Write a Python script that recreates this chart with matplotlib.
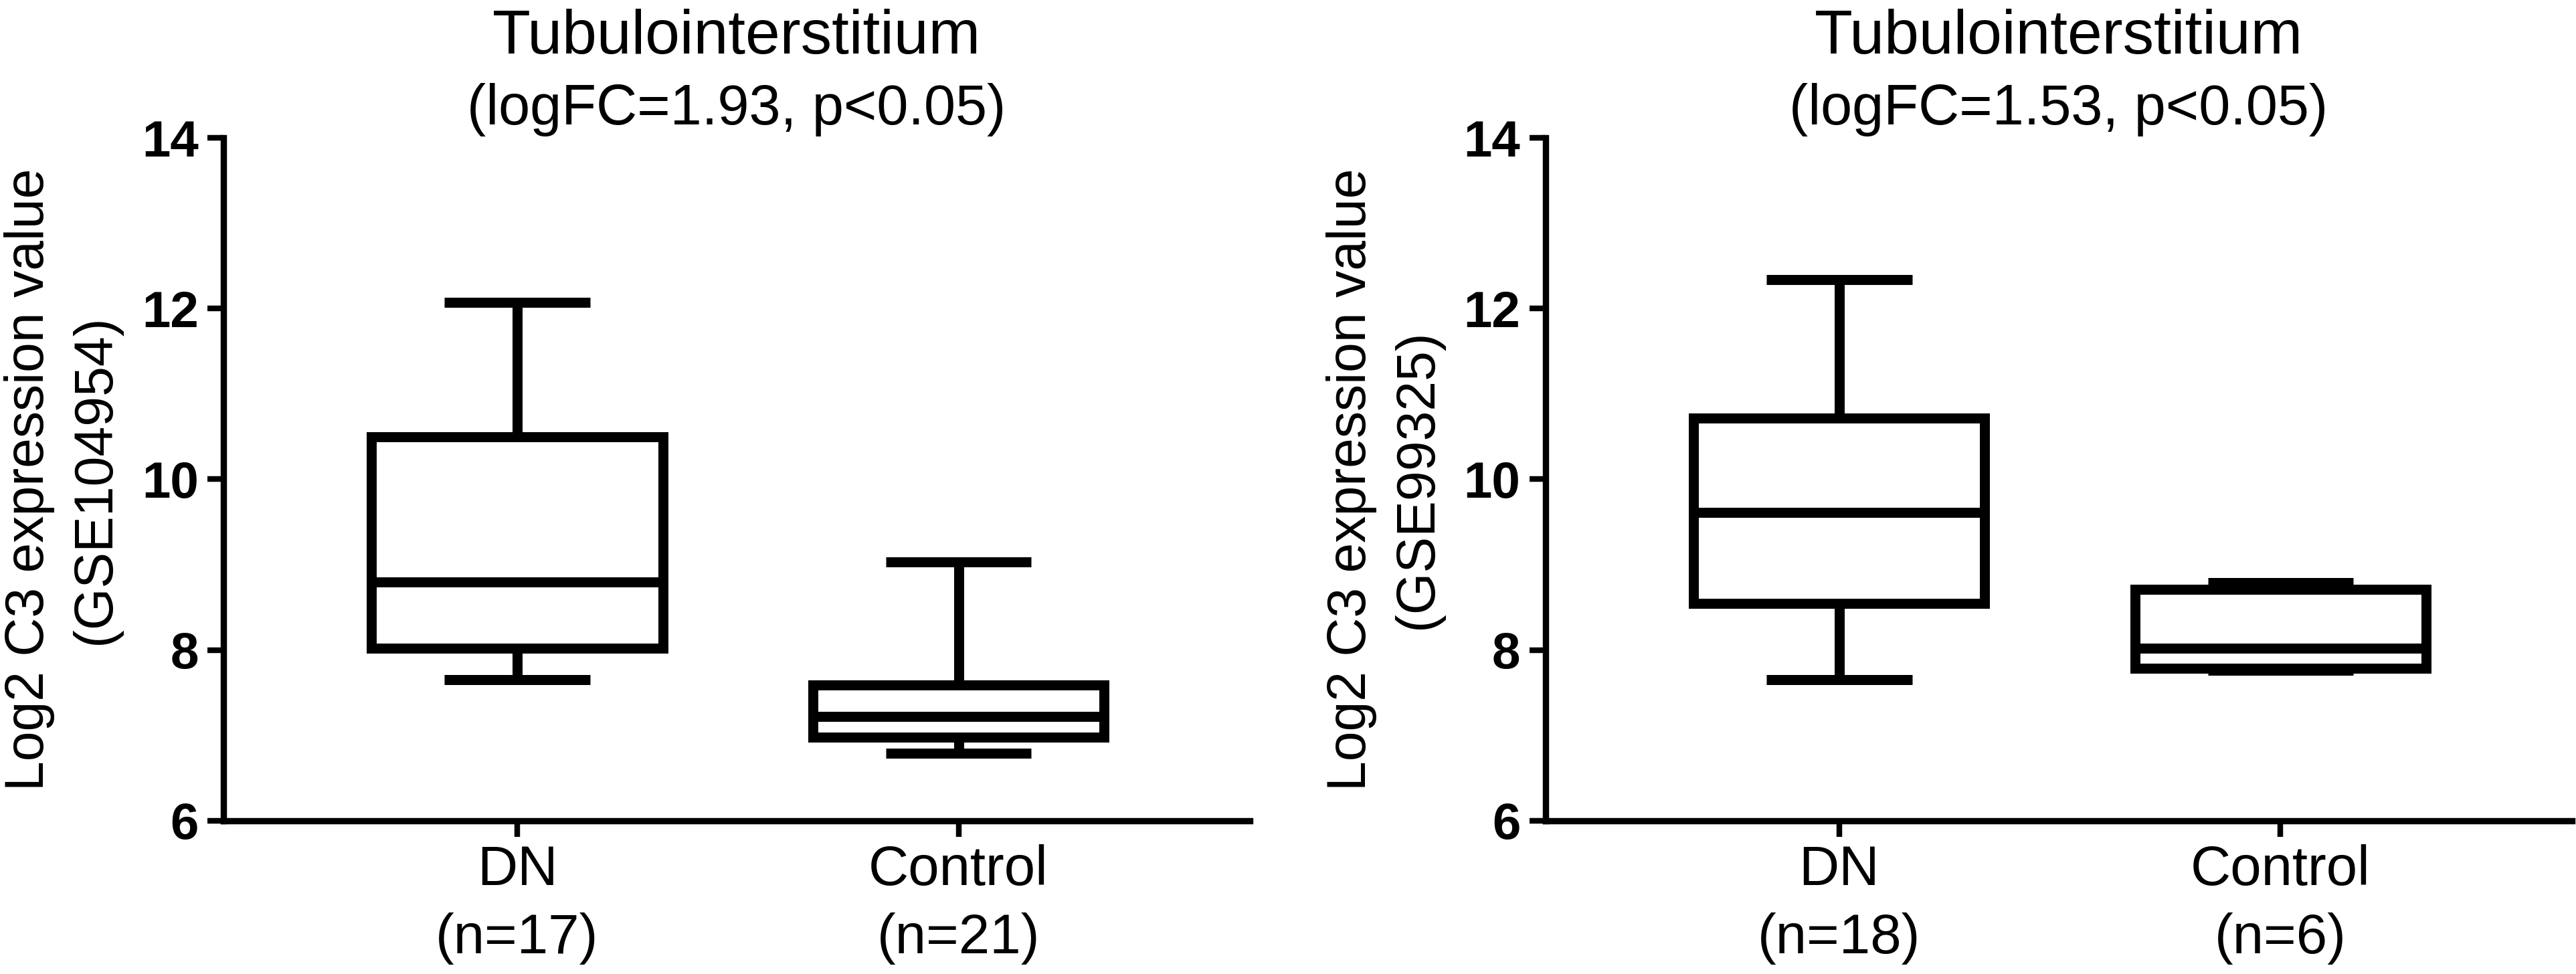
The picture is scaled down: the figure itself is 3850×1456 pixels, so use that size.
import matplotlib
matplotlib.use("Agg")
import matplotlib.pyplot as plt

plt.rcParams["font.family"] = ["Liberation Sans", "DejaVu Sans"]

# box-plot summary values
groups = ["DN", "Control"]
left_n = [17, 21]
left_whislo = [7.65, 6.79]
left_q1 = [8.02, 6.98]
left_med = [8.80, 7.22]
left_q3 = [10.50, 7.59]
left_whishi = [12.07, 9.03]

right_n = [18, 6]
right_whislo = [7.65, 7.76]
right_q1 = [8.55, 7.79]
right_med = [9.61, 8.02]
right_q3 = [10.72, 8.71]
right_whishi = [12.34, 8.79]

titles = ["(logFC=1.93, p<0.05)", "(logFC=1.53, p<0.05)"]
datasets = ["GSE104954", "GSE99325"]
yticks = [6, 8, 10, 12, 14]

LW = 10.8


def stats_for(lo, q1, med, q3, hi):
    return [dict(whislo=a, q1=b, med=c, q3=d, whishi=e, fliers=[])
            for a, b, c, d, e in zip(lo, q1, med, q3, hi)]


panels = [
    (stats_for(left_whislo, left_q1, left_med, left_q3, left_whishi), left_n),
    (stats_for(right_whislo, right_q1, right_med, right_q3, right_whishi), right_n),
]

fig = plt.figure(figsize=(38.5, 14.56), dpi=100)
lefts = [0.0868, 0.6]

for i, (st, ns) in enumerate(panels):
    ax = fig.add_axes([lefts[i], 0.1573, 0.3984, 0.7012])
    line = dict(color="black", linewidth=LW, solid_capstyle="butt")
    ax.bxp(st, positions=[1, 2], widths=0.66, showfliers=False,
           boxprops=dict(color="black", linewidth=LW, solid_joinstyle="miter",
                         solid_capstyle="projecting"),
           whiskerprops=line, capprops=line, medianprops=line)
    ax.set_ylim(6, 14)
    ax.set_xlim(0.335, 2.66)
    ax.set_yticks(yticks)
    ax.set_xticks([1, 2])
    ax.set_xticklabels([f"{g}\n(n={n})" for g, n in zip(groups, ns)],
                       fontsize=60, linespacing=1.4)
    for lab in ax.get_yticklabels():
        lab.set_fontweight("bold")
        lab.set_fontsize(55)
    ax.tick_params(axis="both", length=17, width=6.1, color="black")
    ax.tick_params(axis="y", pad=10)
    ax.tick_params(axis="x", pad=8)
    for s in ("top", "right"):
        ax.spines[s].set_visible(False)
    for s in ("left", "bottom"):
        ax.spines[s].set_linewidth(6.8)
    ax.set_ylabel(f"Log2 C3 expression value\n({datasets[i]})",
                  fontsize=58, linespacing=1.38)
    ax.yaxis.set_label_coords(-0.1, 0.5)
    ax.text(0.5, 1.123, "Tubulointerstitium", transform=ax.transAxes,
            ha="center", va="baseline", fontsize=67)
    ax.text(0.5, 1.0196, titles[i], transform=ax.transAxes,
            ha="center", va="baseline", fontsize=61)

fig.savefig("out.png", dpi=100, facecolor="white")
